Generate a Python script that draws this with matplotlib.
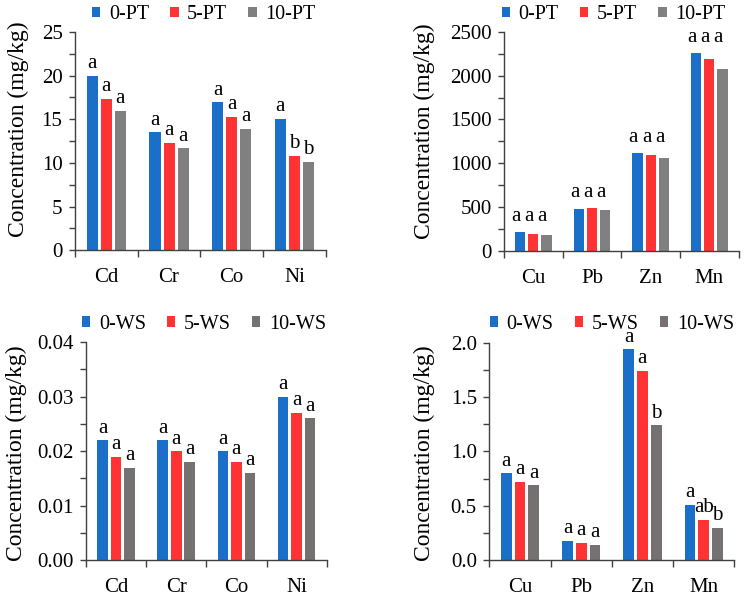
import numpy as np
import matplotlib
matplotlib.use("Agg")
import matplotlib.pyplot as plt
from matplotlib.ticker import MultipleLocator, FixedLocator, NullFormatter

plt.rcParams['font.family'] = ['Liberation Serif', 'DejaVu Serif']

# -----------------------------
#  Data
# -----------------------------
metals_a = ["Cd", "Cr", "Co", "Ni"]
metals_b = ["Cu", "Pb", "Zn", "Mn"]

pt_labels = ["0-PT", "5-PT", "10-PT"]
ws_labels = ["0-WS", "5-WS", "10-WS"]

# plant tissue, mg/kg
pt_a = np.array([
    [20.0, 13.5, 16.95, 15.08],    # 0-PT
    [17.33, 12.29, 15.27, 10.8],   # 5-PT
    [15.99, 11.68, 13.93, 10.11],  # 10-PT
])
pt_a_letters = [["a", "a", "a", "a"], ["a", "a", "a", "b"], ["a", "a", "a", "b"]]

pt_b = np.array([
    [217, 480, 1113, 2260],
    [194, 484, 1098, 2187],
    [175, 461, 1063, 2073],
])
pt_b_letters = [["a", "a", "a", "a"], ["a", "a", "a", "a"], ["a", "a", "a", "a"]]

# water soluble, mg/kg
ws_a = np.array([
    [0.022, 0.022, 0.020, 0.030],
    [0.019, 0.020, 0.018, 0.027],
    [0.017, 0.018, 0.016, 0.026],
])
ws_a_letters = [["a", "a", "a", "a"], ["a", "a", "a", "a"], ["a", "a", "a", "a"]]

ws_b = np.array([
    [0.80, 0.178, 1.94, 0.51],
    [0.72, 0.16, 1.74, 0.37],
    [0.69, 0.14, 1.24, 0.30],
])
ws_b_letters = [["a", "a", "a", "a"], ["a", "a", "a", "ab"], ["a", "a", "b", "b"]]

colors_pt = ["#1a70c8", "#ff3333", "#808080"]
colors_ws = ["#1a70c8", "#ff3333", "#767171"]

# -----------------------------
#  Figure
# -----------------------------
fig = plt.figure(figsize=(7.45, 5.99), dpi=100)

panels = [
    # rect, cats, values, letters, labels, colors, ymax, major, minor, fmt,
    # legend pos, ylabel pos, letters aligned per group
    ([0.1007, 0.5821, 0.3365, 0.3645], metals_a, pt_a, pt_a_letters, pt_labels, colors_pt,
     25, 5, 2.5, "{:.0f}", (0.513, 1.078), (-0.185, 0.555), False),
    ([0.6765, 0.5815, 0.3150, 0.3651], metals_b, pt_b, pt_b_letters, pt_labels, colors_pt,
     2500, 500, 250, "{:.0f}", (0.467, 1.078), (-0.292, 0.545), True),
    ([0.1154, 0.0646, 0.3231, 0.3644], metals_a, ws_a, ws_a_letters, ws_labels, colors_ws,
     0.04, 0.01, 0.005, "{:.2f}", (0.49, 1.082), (-0.245, 0.49), False),
    ([0.6568, 0.0646, 0.3288, 0.3633], metals_b, ws_b, ws_b_letters, ws_labels, colors_ws,
     2.0, 0.5, 0.25, "{:.1f}", (0.5, 1.085), (-0.22, 0.49), False),
]

width = 0.176
step = 0.224

for (rect, cats, vals, letters, labels, cols, ymax, major, minor, fmt,
     leg_pos, ylab_pos, aligned) in panels:
    ax = fig.add_axes(rect)
    x = np.arange(len(cats))
    for i in range(3):
        ax.bar(x + (i - 1) * step, vals[i], width, color=cols[i], label=labels[i])

    # significance letters
    for j in range(len(cats)):
        for i in range(3):
            xi = x[j] + (i - 1) * step
            if aligned:
                yi, off = vals[:, j].max(), (-3, 8)
            else:
                yi, off = vals[i, j], (0, 5.5)
            ax.annotate(letters[i][j], (xi, yi), xytext=off,
                        textcoords="offset points", ha="center", va="baseline",
                        fontsize=15)

    ax.set_xlim(-0.5, len(cats) - 0.5)
    ax.yaxis.set_major_locator(MultipleLocator(major))
    ax.yaxis.set_minor_locator(MultipleLocator(minor))
    ax.set_ylim(0, ymax)
    ticks = np.arange(0, ymax + major / 2, major)
    ax.set_yticks(ticks)
    ax.set_yticklabels([fmt.format(v) for v in ticks])
    ax.set_ylim(0, ymax)

    # category boundaries as major ticks, names as minor
    ax.xaxis.set_major_locator(FixedLocator(np.arange(len(cats) + 1) - 0.5))
    ax.xaxis.set_major_formatter(NullFormatter())
    ax.xaxis.set_minor_locator(FixedLocator(x))
    ax.set_xticklabels(cats, minor=True)

    ax.tick_params(axis="x", which="major", direction="out", length=5, width=1, color="#404040")
    ax.tick_params(axis="x", which="minor", length=0, pad=13, labelsize=15)
    ax.tick_params(axis="y", which="both", direction="out", length=4, width=1,
                   color="#404040", labelsize=15, pad=5)

    for s in ["top", "right"]:
        ax.spines[s].set_visible(False)
    for s in ["left", "bottom"]:
        ax.spines[s].set_color("#404040")
        ax.spines[s].set_linewidth(1)

    ax.set_ylabel("Concentration (mg/kg)", fontsize=17)
    ax.yaxis.set_label_coords(*ylab_pos)

    ax.legend(loc="center", bbox_to_anchor=leg_pos, ncol=3, frameon=False,
              fontsize=14.5, handlelength=0.42, handleheight=0.42,
              handletextpad=0.42, columnspacing=1.05, borderaxespad=0, borderpad=0)

plt.savefig("out.png", dpi=100)
